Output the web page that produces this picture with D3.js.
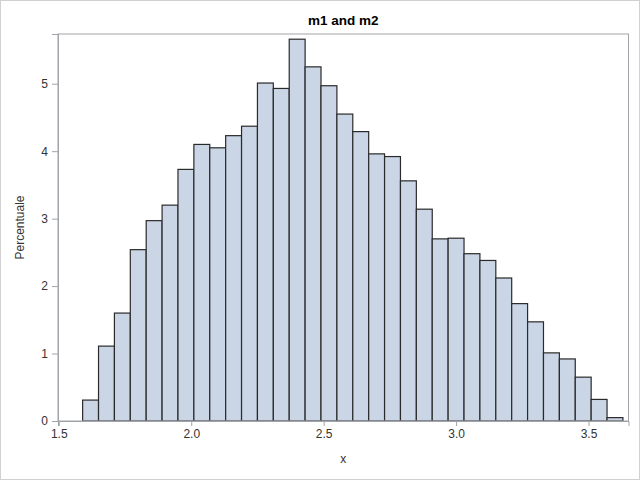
<!DOCTYPE html>
<html>
<head>
<meta charset="utf-8">
<script src="https://cdn.jsdelivr.net/npm/d3@7"></script>
<style>
  body { margin: 0; background: #fff; }
  svg { display: block; font-family: "Liberation Sans", Arial, sans-serif; }
</style>
</head>
<body>
<svg id="chart" width="640" height="480"></svg>
<script>
// Data: histogram bins (width 0.06, starting at 1.59), percent per bin
var bin_start = 1.59
var bin_width = 0.06
var percents = [
  0.31, 1.11, 1.60, 2.54, 2.97, 3.20, 3.73, 4.10, 4.05, 4.23,
  4.37, 5.01, 4.93, 5.66, 5.25, 4.97, 4.55, 4.29, 3.96, 3.92,
  3.56, 3.14, 2.70, 2.71, 2.48, 2.38, 2.12, 1.74, 1.47, 1.01,
  0.92, 0.65, 0.32, 0.05
]
var x_ticks = [1.5, 2.0, 2.5, 3.0, 3.5]
var y_ticks = [0, 1, 2, 3, 4, 5]

var bins = percents.map(function(p, i) {
  return { x0: bin_start + i * bin_width, x1: bin_start + (i + 1) * bin_width, pct: p }
})

//////////////////////////////////////////////////////////////////////////////
// Layout
//////////////////////////////////////////////////////////////////////////////

var plot = { left: 58, right: 628.5, top: 34, bottom: 421 }

var x = d3.scaleLinear().domain([1.497, 3.651]).range([plot.left, plot.right])
var y = d3.scaleLinear().domain([0, 5.737]).range([plot.bottom, plot.top])

var svg = d3.select('#chart')

// Outer border
svg.append('rect')
  .attr('x', 0.5).attr('y', 0.5)
  .attr('width', 639).attr('height', 479)
  .attr('fill', '#fff')
  .attr('stroke', '#d0d0d0')

// Title
svg.append('text')
  .attr('x', (plot.left + plot.right) / 2)
  .attr('y', 25)
  .attr('text-anchor', 'middle')
  .attr('font-size', 13.5)
  .attr('font-weight', 'bold')
  .attr('fill', '#000')
  .text('m1 and m2')

//////////////////////////////////////////////////////////////////////////////
// Bars
//////////////////////////////////////////////////////////////////////////////

svg.append('g')
  .selectAll('rect')
  .data(bins)
  .join('rect')
  .attr('x', function(d) { return x(d.x0) })
  .attr('y', function(d) { return y(d.pct) })
  .attr('width', function(d) { return x(d.x1) - x(d.x0) })
  .attr('height', function(d) { return y(0) - y(d.pct) })
  .attr('fill', '#cad5e5')
  .attr('stroke', '#2a2a2a')
  .attr('stroke-width', 1.2)

//////////////////////////////////////////////////////////////////////////////
// Frame and axes
//////////////////////////////////////////////////////////////////////////////

svg.append('rect')
  .attr('x', plot.left).attr('y', plot.top)
  .attr('width', plot.right - plot.left)
  .attr('height', plot.bottom - plot.top)
  .attr('fill', 'none')
  .attr('stroke', '#a0a4a8')

var x_axis = svg.append('g')
  .attr('transform', 'translate(0,' + plot.bottom + ')')
  .call(d3.axisBottom(x).tickValues(x_ticks).tickFormat(d3.format('.1f')).tickSizeOuter(0).tickSize(5).tickPadding(3))
x_axis.select('.domain').attr('stroke', '#a0a4a8')
x_axis.selectAll('.tick line').attr('stroke', '#a0a4a8')
x_axis.selectAll('.tick text')
  .attr('font-size', 12)
  .attr('font-family', '"Liberation Sans", Arial, sans-serif')
  .attr('fill', '#333')

var y_axis = svg.append('g')
  .attr('transform', 'translate(' + plot.left + ',0)')
  .call(d3.axisLeft(y).tickValues(y_ticks).tickFormat(d3.format('d')).tickSizeOuter(0).tickSize(6).tickPadding(4))
y_axis.select('.domain').attr('stroke', '#a0a4a8')
y_axis.selectAll('.tick line').attr('stroke', '#a0a4a8')
y_axis.selectAll('.tick text')
  .attr('font-size', 12)
  .attr('font-family', '"Liberation Sans", Arial, sans-serif')
  .attr('fill', '#333')

// Axis labels
svg.append('text')
  .attr('x', (plot.left + plot.right) / 2)
  .attr('y', 463)
  .attr('text-anchor', 'middle')
  .attr('font-size', 12)
  .attr('fill', '#333')
  .text('x')

svg.append('text')
  .attr('transform', 'translate(24,' + (plot.top + plot.bottom) / 2 + ') rotate(-90)')
  .attr('text-anchor', 'middle')
  .attr('font-size', 12)
  .attr('fill', '#333')
  .text('Percentuale')
</script>
</body>
</html>
